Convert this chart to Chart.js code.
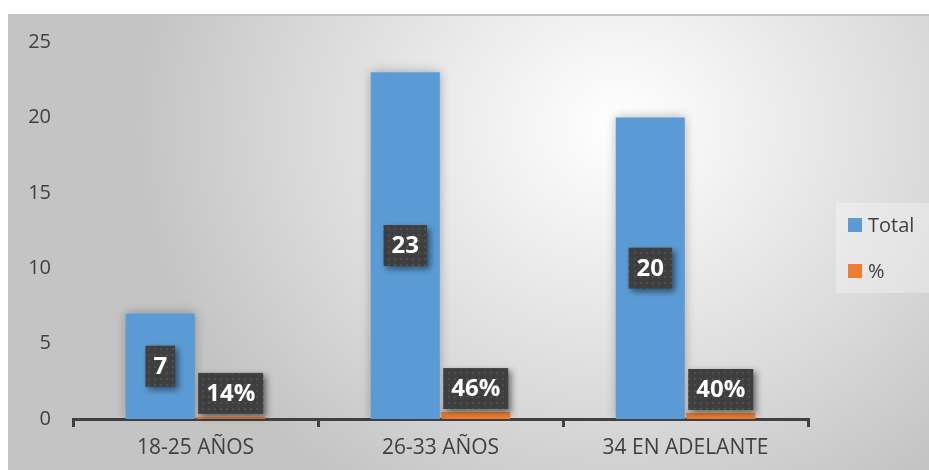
<!DOCTYPE html>
<html>
<head>
    <meta charset="utf-8">
    <title>Total por edad</title>
    <style>
        html, body { margin: 0; padding: 0; background: #fff; }
        /* marco del gráfico con degradado radial */
        #marco {
            position: absolute;
            left: 8px;
            top: 14px;
            width: 921px;
            height: 456px;
            border-top: 2px solid #c2c2c2;
            box-sizing: border-box;
            background: radial-gradient(ellipse 480px 430px at 610px 110px, #ffffff 0%, #f4f4f4 20%, #dadada 65%, #c4c4c4 100%);
        }
        #grafico { display: block; }
    </style>
</head>
<body>
    <div id="marco">
        <canvas id="grafico" width="921" height="454"></canvas>
    </div>

    <script src="https://cdn.jsdelivr.net/npm/chart.js"></script>
    <script>
        // datos
        const grupos = ['18-25 AÑOS', '26-33 AÑOS', '34 EN ADELANTE'];
        const totales = [7, 23, 20];
        const porcentajes = [0.14, 0.46, 0.40];
        const ticksY = [0, 5, 10, 15, 20, 25];

        const azul = '#5B9BD5';
        const naranja = '#ED7D31';
        const fuente = "'Open Sans', sans-serif";

        // textura punteada para las etiquetas
        function crearTextura() {
            const c = document.createElement('canvas');
            c.width = 6; c.height = 6;
            const g = c.getContext('2d');
            g.fillStyle = '#3f3f3f';
            g.fillRect(0, 0, 6, 6);
            g.fillStyle = '#4f4f4f';
            g.fillRect(2, 2, 2, 2);
            return g.createPattern(c, 'repeat');
        }

        // sombra suave alrededor de las barras
        const sombraBarras = {
            id: 'sombraBarras',
            beforeDatasetDraw(chart) {
                const ctx = chart.ctx;
                ctx.save();
                ctx.shadowColor = 'rgba(0,0,0,0.28)';
                ctx.shadowBlur = 10;
            },
            afterDatasetDraw(chart) {
                chart.ctx.restore();
            }
        };

        // etiquetas de valor en cajas oscuras
        const etiquetas = {
            id: 'etiquetas',
            afterDatasetsDraw(chart) {
                const ctx = chart.ctx;
                const textura = crearTextura();
                ctx.save();
                ctx.font = 'bold 24px ' + fuente;
                ctx.textAlign = 'center';
                ctx.textBaseline = 'middle';
                chart.data.datasets.forEach((ds, i) => {
                    const meta = chart.getDatasetMeta(i);
                    meta.data.forEach((bar, j) => {
                        const v = ds.data[j];
                        const texto = i === 0 ? String(v) : Math.round(v * 100) + '%';
                        const w = ctx.measureText(texto).width + 16;
                        const h = 41;
                        let cy;
                        if (i === 0) {
                            cy = (bar.y + bar.base) / 2;
                        } else {
                            cy = bar.y - 3 - h / 2;
                        }
                        const x0 = bar.x - w / 2;
                        const y0 = cy - h / 2;
                        ctx.save();
                        ctx.shadowColor = 'rgba(0,0,0,0.5)';
                        ctx.shadowBlur = 6;
                        ctx.shadowOffsetX = 3;
                        ctx.shadowOffsetY = 3;
                        ctx.fillStyle = textura;
                        ctx.fillRect(x0, y0, w, h);
                        ctx.restore();
                        ctx.fillStyle = '#ffffff';
                        ctx.fillText(texto, bar.x, cy + 1);
                    });
                });
                ctx.restore();
            }
        };

        // leyenda a la derecha
        const leyenda = {
            id: 'leyenda',
            afterDraw(chart) {
                const ctx = chart.ctx;
                ctx.save();
                ctx.fillStyle = 'rgba(255,255,255,0.3)';
                ctx.fillRect(828, 187, 93, 90);
                ctx.font = '20px ' + fuente;
                ctx.textBaseline = 'middle';
                ctx.textAlign = 'left';
                chart.data.datasets.forEach((ds, i) => {
                    const y = 209 + i * 46;
                    ctx.fillStyle = ds.backgroundColor;
                    ctx.fillRect(840, y - 7, 14, 14);
                    ctx.fillStyle = '#404040';
                    ctx.fillText(ds.label, 860, y + 1);
                });
                ctx.restore();
            }
        };

        new Chart(document.getElementById('grafico'), {
            type: 'bar',
            data: {
                labels: grupos,
                datasets: [
                    { label: 'Total', data: totales, backgroundColor: azul },
                    { label: '%', data: porcentajes, backgroundColor: naranja }
                ]
            },
            options: {
                responsive: false,
                animation: false,
                datasets: {
                    bar: { categoryPercentage: 0.575, barPercentage: 0.98 }
                },
                layout: { padding: { left: 0, top: 26, right: 121, bottom: 0 } },
                plugins: {
                    legend: { display: false },
                    tooltip: { enabled: false }
                },
                scales: {
                    x: {
                        afterFit: s => { s.height = 51; },
                        grid: {
                            offset: true,
                            drawOnChartArea: false,
                            drawTicks: true,
                            tickLength: 8,
                            lineWidth: 3,
                            color: '#404040'
                        },
                        border: { display: true, color: '#404040', width: 3 },
                        ticks: {
                            padding: 8,
                            color: '#404040',
                            font: { family: fuente, size: 21 }
                        }
                    },
                    y: {
                        min: 0,
                        max: 25,
                        afterFit: s => { s.width = 65; },
                        afterBuildTicks: s => { s.ticks = ticksY.map(v => ({ value: v })); },
                        grid: { display: false },
                        border: { display: false },
                        ticks: {
                            padding: 14,
                            color: '#404040',
                            font: { family: fuente, size: 20 }
                        }
                    }
                }
            },
            plugins: [sombraBarras, etiquetas, leyenda]
        });
    </script>
</body>
</html>
